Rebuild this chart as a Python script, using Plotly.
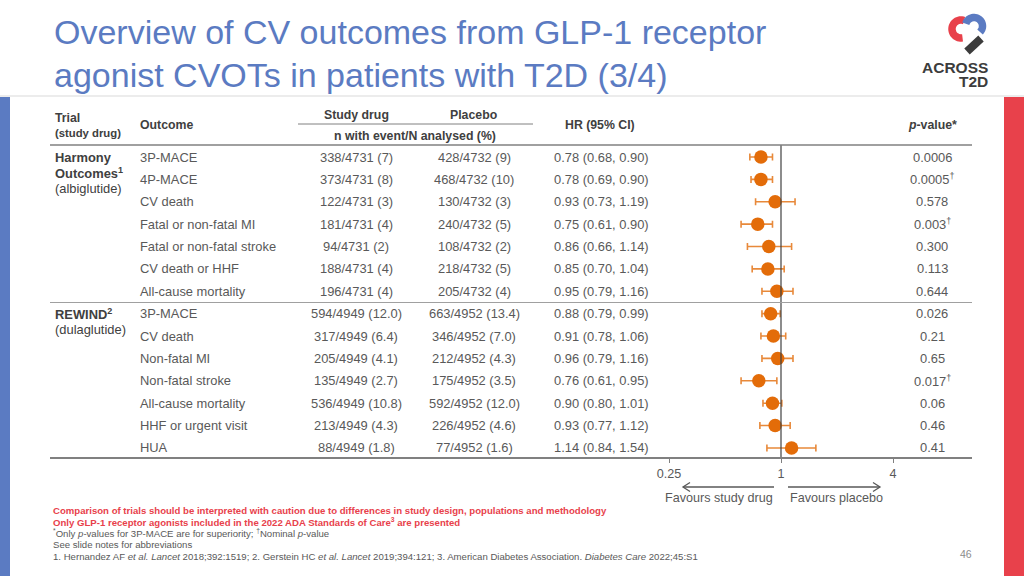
import math
import plotly.graph_objects as go

W, H = 1024, 576


def px(x):
    return x / W


def py(y):
    return 1 - y / H


# ---------------- data ----------------
trial_label_lines = [["<b>Harmony</b>", "<b>Outcomes<sup>1</sup></b>", "(albiglutide)"],
                     ["<b>REWIND<sup>2</sup></b>", "(dulaglutide)"]]
trial_first_row = [0, 7]

outcomes = ["3P-MACE", "4P-MACE", "CV death", "Fatal or non-fatal MI",
            "Fatal or non-fatal stroke", "CV death or HHF", "All-cause mortality",
            "3P-MACE", "CV death", "Non-fatal MI", "Non-fatal stroke",
            "All-cause mortality", "HHF or urgent visit", "HUA"]
study_drug = ["338/4731 (7)", "373/4731 (8)", "122/4731 (3)", "181/4731 (4)",
              "94/4731 (2)", "188/4731 (4)", "196/4731 (4)",
              "594/4949 (12.0)", "317/4949 (6.4)", "205/4949 (4.1)", "135/4949 (2.7)",
              "536/4949 (10.8)", "213/4949 (4.3)", "88/4949 (1.8)"]
placebo = ["428/4732 (9)", "468/4732 (10)", "130/4732 (3)", "240/4732 (5)",
           "108/4732 (2)", "218/4732 (5)", "205/4732 (4)",
           "663/4952 (13.4)", "346/4952 (7.0)", "212/4952 (4.3)", "175/4952 (3.5)",
           "592/4952 (12.0)", "226/4952 (4.6)", "77/4952 (1.6)"]
hr = [0.78, 0.78, 0.93, 0.75, 0.86, 0.85, 0.95,
      0.88, 0.91, 0.96, 0.76, 0.90, 0.93, 1.14]
ci_lo = [0.68, 0.69, 0.73, 0.61, 0.66, 0.70, 0.79,
         0.79, 0.78, 0.79, 0.61, 0.80, 0.77, 0.84]
ci_hi = [0.90, 0.90, 1.19, 0.90, 1.14, 1.04, 1.16,
         0.99, 1.06, 1.16, 0.95, 1.01, 1.12, 1.54]
p_values = ["0.0006", "0.0005<sup>†</sup>", "0.578", "0.003<sup>†</sup>", "0.300",
            "0.113", "0.644", "0.026", "0.21", "0.65", "0.017<sup>†</sup>",
            "0.06", "0.46", "0.41"]
x_ticks = [0.25, 1, 4]
x_tick_text = ["0.25", "1", "4"]

rows = list(range(len(outcomes)))

# ---------------- styling ----------------
BLUE = "#5B7BC2"
RED = "#E8414B"
ORANGE = "#E36C09"
ORANGE_L = "#E8893A"
TXT = "#595959"
HDR = "#404040"
LOGO = "#3c3c3c"
FONT = "Liberation Sans, Arial, sans-serif"
BODY = 12.9
HEAD = 12.3

ROW0_PX = 157.0
ROW_STEP = 22.38
TOP_PX, BOT_PX = 145.0, 458.0
y_top = (TOP_PX - ROW0_PX) / ROW_STEP
y_bot = (BOT_PX - ROW0_PX) / ROW_STEP

# x axis: 1 at 781px, 56px per doubling
X_L, X_R = 650.0, 912.0
lx0 = (X_L - 781) / 56 * math.log10(2)
lx1 = (X_R - 781) / 56 * math.log10(2)

fig = go.Figure()

# markers with CI
fig.add_trace(go.Scatter(
    x=hr, y=rows, mode="markers",
    marker=dict(size=13.5, color=ORANGE, line=dict(width=0)),
    error_x=dict(type="data", symmetric=False,
                 array=[h - m for h, m in zip(ci_hi, hr)],
                 arrayminus=[m - l for m, l in zip(hr, ci_lo)],
                 color=ORANGE_L, thickness=1.6, width=3.5),
    hoverinfo="skip", showlegend=False, cliponaxis=False))

# line of no effect
fig.add_trace(go.Scatter(
    x=[1, 1], y=[y_top, y_bot], mode="lines",
    line=dict(color=HDR, width=1.2), hoverinfo="skip", showlegend=False,
    cliponaxis=False))

ann = []
shapes = []


def text(x, y, s, size=BODY, color=TXT, xanchor="left", yref="paper", yanchor="middle",
         family=FONT):
    ann.append(dict(x=x, y=y, xref="paper", yref=yref, text=s, showarrow=False,
                    xanchor=xanchor, yanchor=yanchor,
                    align=xanchor if xanchor != "center" else "center",
                    font=dict(size=size, color=color, family=family)))


# title
text(px(52), py(32), "Overview of CV outcomes from GLP-1 receptor", size=34, color=BLUE)
text(px(52), py(75), "agonist CVOTs in patients with T2D (3/4)", size=34, color=BLUE)

# header
text(px(53), py(118), "<b>Trial</b>", size=HEAD, color=HDR)
text(px(53), py(133), "<b>(study drug)</b>", size=11.3, color=HDR)
text(px(138), py(125), "<b>Outcome</b>", size=HEAD, color=HDR)
text(px(356), py(115), "<b>Study drug</b>", size=HEAD, color=HDR, xanchor="center")
text(px(474), py(115), "<b>Placebo</b>", size=HEAD, color=HDR, xanchor="center")
text(px(415), py(136), "<b>n with event/N analysed (%)</b>", size=HEAD, color=HDR, xanchor="center")
text(px(600), py(125), "<b>HR (95% CI)</b>", size=HEAD, color=HDR, xanchor="center")
text(px(932), py(125), "<b><i>p</i>-value*</b>", size=HEAD, color=HDR, xanchor="center")

# trial labels
LINE_STEP = 15.5 / ROW_STEP
for lines, r in zip(trial_label_lines, trial_first_row):
    for k, ln in enumerate(lines):
        text(px(53), r + k * LINE_STEP, ln, color=HDR, yref="y")

# table rows
for r, o, s, p, h, l, u, pv in zip(rows, outcomes, study_drug, placebo, hr, ci_lo, ci_hi, p_values):
    text(px(138), r, o, yref="y")
    text(px(356), r, s, yref="y", xanchor="center")
    text(px(474), r, p, yref="y", xanchor="center")
    text(px(552), r, f"{h:.2f} ({l:.2f}, {u:.2f})", yref="y")
    text(px(932), r, pv, yref="y", xanchor="center")

# favours labels
text(px(719), py(498), "Favours study drug", size=12.6, xanchor="center")
text(px(836), py(498), "Favours placebo", size=12.6, xanchor="center")

# footnotes
FN = 9.6
text(px(51), py(510), "<b>Comparison of trials should be interpreted with caution due to differences in study design, populations and methodology</b>", size=FN, color=RED)
text(px(51), py(522), "<b>Only GLP-1 receptor agonists included in the 2022 ADA Standards of Care<sup>3</sup> are presented</b>", size=FN, color=RED)
text(px(51), py(533), "<sup>*</sup>Only <i>p</i>-values for 3P-MACE are for superiority; <sup>†</sup>Nominal <i>p</i>-value", size=FN)
text(px(51), py(544.5), "See slide notes for abbreviations", size=FN)
text(px(51), py(556), "1. Hernandez AF <i>et al. Lancet</i> 2018;392:1519; 2. Gerstein HC <i>et al. Lancet</i> 2019;394:121; 3. American Diabetes Association. <i>Diabetes Care</i> 2022;45:S1", size=FN)
text(px(966), py(554), "46", size=10.5, color="#8c8c8c", xanchor="center")

# logo text
text(px(990), py(67.5), "<b>ACROSS</b>", size=15.5, color=LOGO, xanchor="right")
text(px(990), py(81.5), "<b>T2D</b>", size=15.5, color=LOGO, xanchor="right")


def hline(y, x0, x1, color, width):
    shapes.append(dict(type="line", xref="paper", yref="paper", x0=px(x0), x1=px(x1),
                       y0=py(y), y1=py(y), line=dict(color=color, width=width)))


# table rules
hline(124, 298, 533, "#808080", 1)
hline(145, 50, 972, "#808080", 1.5)
hline(302.5, 50, 972, "#a0a0a0", 1)
hline(458, 50, 972, "#808080", 2)
# title rule
hline(96, 0, 1024, "#d9d9d9", 1)

# side bars
shapes.append(dict(type="rect", xref="paper", yref="paper", x0=0, x1=px(10), y0=0, y1=py(97),
                   fillcolor=BLUE, line=dict(width=0)))
shapes.append(dict(type="rect", xref="paper", yref="paper", x0=px(1004), x1=1, y0=0, y1=py(97),
                   fillcolor=RED, line=dict(width=0)))


def poly(pts, color, width):
    d = "M " + " L ".join(f"{px(x):.5f},{py(y):.5f}" for x, y in pts)
    shapes.append(dict(type="path", xref="paper", yref="paper", path=d,
                       line=dict(color=color, width=width)))


def arc(cx, cy, r, a0, a1, n=30):
    return [(cx + r * math.cos(math.radians(a0 + (a1 - a0) * i / n)),
             cy + r * math.sin(math.radians(a0 + (a1 - a0) * i / n))) for i in range(n + 1)]


# arrows
poly([(774, 487), (683, 487)], TXT, 1.3)
poly([(690, 482.5), (683, 487), (690, 491.5)], TXT, 1.3)
poly([(788, 487), (880, 487)], TXT, 1.3)
poly([(873, 482.5), (880, 487), (873, 491.5)], TXT, 1.3)

# logo marks
poly(arc(961, 29, 9, 290, 80), RED, 7.5)
poly(arc(974, 26, 8.5, 195, 405), BLUE, 7.5)
poly([(967, 51.5), (981, 38.5)], LOGO, 8)

fig.update_layout(
    width=W, height=H, margin=dict(l=0, r=0, t=0, b=0),
    paper_bgcolor="white", plot_bgcolor="rgba(0,0,0,0)",
    annotations=ann, shapes=shapes, showlegend=False,
    xaxis=dict(type="log", domain=[px(X_L), px(X_R)], range=[lx0, lx1],
               tickvals=x_ticks, ticktext=x_tick_text, ticks="outside", ticklen=4,
               tickcolor="#808080", tickwidth=1.2, showgrid=False, zeroline=False,
               showline=False, tickfont=dict(size=12.6, color=TXT, family=FONT),
               fixedrange=True),
    yaxis=dict(domain=[py(BOT_PX), py(TOP_PX)], range=[y_bot, y_top], visible=False,
               fixedrange=True),
    font=dict(family=FONT),
)

fig.write_html("out.html", config={"displayModeBar": False},
               post_script="document.body.style.margin='0';document.body.style.overflow='hidden';")
